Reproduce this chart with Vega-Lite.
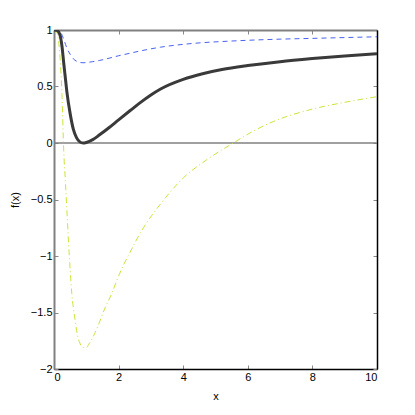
{
  "$schema": "https://vega.github.io/schema/vega-lite/v6.json",
  "width": 323,
  "height": 339,
  "autosize": "none",
  "padding": {"left": 54, "top": 30, "right": 38, "bottom": 46},
  "background": "white",
  "config": {
    "view": {"stroke": null},
    "axis": {"labelFont": "Liberation Sans", "titleFont": "Liberation Sans", "labelFontSize": 11, "titleFontSize": 11, "labelColor": "#000", "titleColor": "#000", "titleFontWeight": "normal", "grid": false, "tickColor": "#888", "tickSize": -4, "tickWidth": 1}
  },
  "datasets": {
    "thick": [
      {"x": 0, "y": 1.0}, {"x": 0.1, "y": 0.995}, {"x": 0.15, "y": 0.98}, {"x": 0.2, "y": 0.94}, {"x": 0.25, "y": 0.85},
      {"x": 0.3, "y": 0.71}, {"x": 0.35, "y": 0.58}, {"x": 0.4, "y": 0.45}, {"x": 0.5, "y": 0.26}, {"x": 0.6, "y": 0.12},
      {"x": 0.7, "y": 0.045}, {"x": 0.8, "y": 0.01}, {"x": 0.9, "y": 0.0}, {"x": 1.0, "y": 0.005}, {"x": 1.2, "y": 0.03},
      {"x": 1.4, "y": 0.07}, {"x": 1.7, "y": 0.135}, {"x": 2.0, "y": 0.205}, {"x": 2.35, "y": 0.285}, {"x": 2.66, "y": 0.355},
      {"x": 3.0, "y": 0.425}, {"x": 3.3, "y": 0.478}, {"x": 4.0, "y": 0.563}, {"x": 4.6, "y": 0.613}, {"x": 5.2, "y": 0.65},
      {"x": 6.0, "y": 0.685}, {"x": 7.0, "y": 0.72}, {"x": 8.0, "y": 0.747}, {"x": 9.0, "y": 0.77}, {"x": 10.0, "y": 0.79}
    ],
    "blue": [
      {"x": 0, "y": 1.0}, {"x": 0.1, "y": 0.998}, {"x": 0.2, "y": 0.982}, {"x": 0.3, "y": 0.918}, {"x": 0.4, "y": 0.84},
      {"x": 0.5, "y": 0.785}, {"x": 0.6, "y": 0.745}, {"x": 0.7, "y": 0.723}, {"x": 0.8, "y": 0.713}, {"x": 0.9, "y": 0.71},
      {"x": 1.0, "y": 0.712}, {"x": 1.2, "y": 0.72}, {"x": 1.4, "y": 0.73}, {"x": 1.7, "y": 0.75}, {"x": 2.0, "y": 0.772},
      {"x": 2.35, "y": 0.794}, {"x": 2.66, "y": 0.814}, {"x": 3.0, "y": 0.833}, {"x": 3.3, "y": 0.848}, {"x": 4.0, "y": 0.873},
      {"x": 4.6, "y": 0.888}, {"x": 5.2, "y": 0.898}, {"x": 6.0, "y": 0.909}, {"x": 7.0, "y": 0.919}, {"x": 8.0, "y": 0.926},
      {"x": 9.0, "y": 0.933}, {"x": 10.0, "y": 0.94}
    ],
    "yellow": [
      {"x": 0, "y": 1.0}, {"x": 0.1, "y": 0.97}, {"x": 0.15, "y": 0.88}, {"x": 0.2, "y": 0.7}, {"x": 0.25, "y": 0.4},
      {"x": 0.3, "y": -0.06}, {"x": 0.35, "y": -0.33}, {"x": 0.4, "y": -0.6}, {"x": 0.45, "y": -0.88}, {"x": 0.5, "y": -1.12},
      {"x": 0.55, "y": -1.33}, {"x": 0.6, "y": -1.46}, {"x": 0.65, "y": -1.56}, {"x": 0.7, "y": -1.66}, {"x": 0.75, "y": -1.73},
      {"x": 0.8, "y": -1.77}, {"x": 0.9, "y": -1.81}, {"x": 1.0, "y": -1.81}, {"x": 1.1, "y": -1.77}, {"x": 1.27, "y": -1.68},
      {"x": 1.58, "y": -1.46}, {"x": 1.79, "y": -1.33}, {"x": 1.94, "y": -1.22}, {"x": 2.15, "y": -1.08}, {"x": 2.35, "y": -0.97},
      {"x": 2.51, "y": -0.88}, {"x": 2.77, "y": -0.75}, {"x": 3.28, "y": -0.546}, {"x": 4.0, "y": -0.31}, {"x": 4.73, "y": -0.148},
      {"x": 5.55, "y": 0.0}, {"x": 6.2, "y": 0.11}, {"x": 6.79, "y": 0.19}, {"x": 7.93, "y": 0.295}, {"x": 9.0, "y": 0.36},
      {"x": 10.0, "y": 0.41}
    ],
    "zero": [{"x": 0, "y": 0}, {"x": 10, "y": 0}]
  },
  "layer": [
    {
      "data": {"name": "zero"},
      "mark": {"type": "line", "color": "#808080", "strokeWidth": 1.5, "clip": true},
      "encoding": {
        "x": {"field": "x", "type": "quantitative", "scale": {"domain": [0, 10], "nice": false, "zero": false},
              "axis": {"orient": "bottom", "values": [0, 2, 4, 6, 8, 10], "format": "d", "title": "x", "domainColor": "#000", "domainWidth": 1.5, "labelPadding": 6, "titlePadding": 8}},
        "y": {"field": "y", "type": "quantitative", "scale": {"domain": [-2, 1], "nice": false, "zero": false},
              "axis": {"orient": "left", "values": [-2, -1.5, -1, -0.5, 0, 0.5, 1], "format": ".1~f", "title": "f(x)", "domainColor": "#808080", "domainWidth": 2, "labelPadding": 6, "titlePadding": 10}}
      }
    },
    {
      "data": {"name": "yellow"},
      "mark": {"type": "line", "color": "#cfe33a", "strokeWidth": 1, "strokeDash": [6, 3, 1, 3], "clip": true, "interpolate": "monotone"},
      "encoding": {
        "x": {"field": "x", "type": "quantitative", "scale": {"domain": [0, 10], "nice": false, "zero": false},
              "axis": {"orient": "top", "values": [0, 2, 4, 6, 8, 10], "labels": false, "title": null, "domainColor": "#808080", "domainWidth": 2}},
        "y": {"field": "y", "type": "quantitative", "scale": {"domain": [-2, 1], "nice": false, "zero": false},
              "axis": {"orient": "right", "values": [-2, -1.5, -1, -0.5, 0, 0.5, 1], "labels": false, "title": null, "domainColor": "#000", "domainWidth": 1.5}}
      }
    },
    {
      "data": {"name": "blue"},
      "mark": {"type": "line", "color": "#4a62f0", "strokeWidth": 1, "strokeDash": [5, 4], "clip": true, "interpolate": "monotone"},
      "encoding": {
        "x": {"field": "x", "type": "quantitative", "axis": null},
        "y": {"field": "y", "type": "quantitative", "axis": null}
      }
    },
    {
      "data": {"name": "thick"},
      "mark": {"type": "line", "color": "#3a3a3a", "strokeWidth": 3, "clip": true, "interpolate": "monotone"},
      "encoding": {
        "x": {"field": "x", "type": "quantitative", "axis": null},
        "y": {"field": "y", "type": "quantitative", "axis": null}
      }
    }
  ],
  "resolve": {"axis": {"x": "independent", "y": "independent"}}
}
